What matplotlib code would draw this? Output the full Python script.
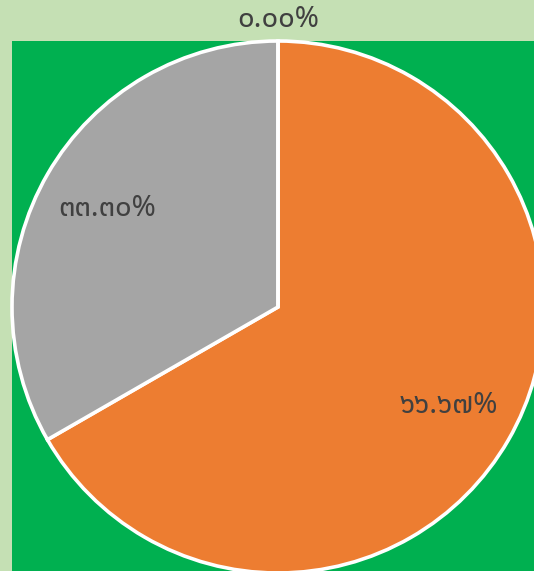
import numpy as np
import matplotlib.pyplot as plt

# slice values (percent) and colours
values = [66.67, 33.30, 0.00]
colors = ['#ed7d31', '#a5a5a5', '#4472c4']
thai_digits = str.maketrans('0123456789', '๐๑๒๓๔๕๖๗๘๙')

fig = plt.figure(figsize=(5.34, 5.71), dpi=100)
fig.patch.set_facecolor('#c5e0b4')

# plot area in pixel-like units
ax = fig.add_axes([12 / 534, 0, 522 / 534, 530 / 571])
ax.set_facecolor('#00b050')
cx, cy, r = 278, 264, 266

wedges, _ = ax.pie(values, colors=colors, startangle=90, counterclock=False,
                   center=(cx, cy), radius=r, frame=True,
                   wedgeprops=dict(edgecolor='white', linewidth=2.6))
ax.set_xlim(12, 534)
ax.set_ylim(0, 530)
ax.set_aspect('auto')
ax.set_xticks([])
ax.set_yticks([])
for s in ax.spines.values():
    s.set_visible(False)

for w, v in zip(wedges, values):
    ang = np.deg2rad((w.theta1 + w.theta2) / 2)
    d = 0.74 if v > 0 else 1.08
    label = f'{v:.2f}%'.translate(thai_digits)
    ax.text(cx + d * r * np.cos(ang), cy + d * r * np.sin(ang), label,
            ha='center', va='center', fontsize=21, color='#404040',
            family=['Noto Sans Thai', 'DejaVu Sans'], clip_on=False)

fig.savefig('out.png', dpi=100, facecolor=fig.get_facecolor())
